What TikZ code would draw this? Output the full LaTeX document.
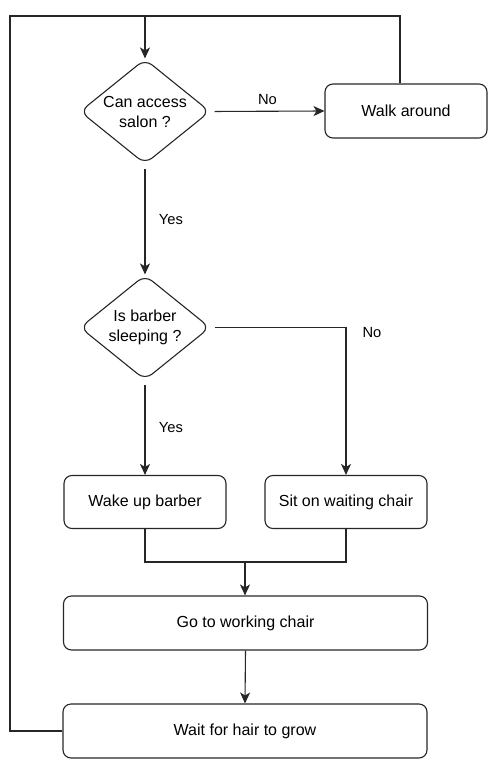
\documentclass[tikz,border=0pt]{standalone}
\usepackage{fontspec}
\setmainfont{Liberation Sans}
\usetikzlibrary{shapes.geometric,arrows.meta}
\begin{document}
\begin{tikzpicture}[x=1pt,y=1pt,
  box/.style={draw=black!85,line width=1.1pt,rounded corners=8pt,inner sep=0pt,font=\fontsize{16}{19}\selectfont},
  dia/.style={draw=black!85,line width=1.1pt,diamond,rounded corners=9pt,inner sep=0pt,minimum width=130pt,minimum height=105pt},
  dtext/.style={font=\fontsize{16}{20}\selectfont,align=center},
  lbl/.style={font=\fontsize{14.7}{17}\selectfont},
  conn/.style={draw=black!85,line width=1.1pt},
  arr/.style={conn,-{Stealth[length=11pt,width=10pt,inset=3pt]}}
]
\useasboundingbox (0,0) rectangle (496,-762);
\node[dia] (d1) at (145,-111.5) {};
\node[dtext] (t1) at (d1) {Can access\\salon ?};
\node[box,minimum width=162pt,minimum height=54pt] (walk) at (406,-111) {Walk around};
\node[dia] (d2) at (145,-327.5) {};
\node[dtext] (t2) at (d2) {Is barber\\sleeping ?};
\node[box,minimum width=162pt,minimum height=53pt] (wake) at (145,-502) {Wake up barber};
\node[box,minimum width=162pt,minimum height=53pt] (sit) at (346,-502) {Sit on waiting chair};
\node[box,minimum width=364pt,minimum height=54pt] (go) at (245.5,-623) {Go to working chair};
\node[box,minimum width=364pt,minimum height=54pt] (wait) at (245,-731) {Wait for hair to grow};
\coordinate (tl) at (10,-16);
\coordinate (tm) at (145,-16);
\coordinate (tr) at (400,-16);
\coordinate (j) at (245,-562);
% loops
\draw[conn] (wait.west) -| (tl) -- (tr) -- (walk.north -| tr);
\draw[arr] (tm) -- (d1.north);
% no branch 1
\draw[arr,shorten <=4pt] (d1.east) -- node[lbl,above=3pt] {No} (walk.west);
% yes 1
\draw[arr,shorten <=4pt] (d1.south) -- node[lbl,right=10pt] {Yes} (d2.north);
% d2 no
\draw[arr,shorten <=4pt] (d2.east) -| (sit.north);
\node[lbl] (no2) at (372,-333) {No};
% d2 yes
\draw[arr,shorten <=4pt] (d2.south) -- node[lbl,right=10pt] {Yes} (wake.north);
% join
\draw[conn] (wake.south) |- (j) -| (sit.south);
\draw[arr] (j) -- (go.north -| j);
\draw[arr] (go.south) -- (wait.north);
\end{tikzpicture}
\end{document}
